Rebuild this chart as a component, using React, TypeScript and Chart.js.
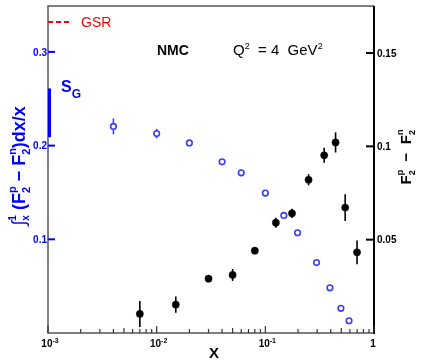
import React, { useEffect, useRef } from "react";
import { Chart, registerables } from "chart.js";

Chart.register(...registerables);

// ---- data ----
const xBlue = [0.004, 0.01, 0.02, 0.04, 0.06, 0.1, 0.148, 0.198, 0.296, 0.393, 0.496, 0.589];
const yBlue = [0.2205, 0.2128, 0.2029, 0.1827, 0.171, 0.1493, 0.1255, 0.107, 0.0752, 0.0482, 0.0263, 0.0131];
const errBlue = [0.0085, 0.005, 0.002, 0, 0, 0, 0, 0, 0, 0, 0, 0];

const xBlack = [0.007, 0.015, 0.03, 0.05, 0.08, 0.125, 0.176, 0.25, 0.348, 0.443, 0.543, 0.698];
const yBlack = [0.0102, 0.0152, 0.0291, 0.0311, 0.0441, 0.0591, 0.0641, 0.0821, 0.0952, 0.1021, 0.0672, 0.0432];
const errBlack = [0.007, 0.0043, 0.0016, 0.0032, 0.0018, 0.0027, 0.0025, 0.003, 0.004, 0.0054, 0.0072, 0.0063];

const xTickExps = [-3, -2, -1, 0];
const leftTicks = [0.1, 0.2, 0.3];
const leftTickLabels = ["0.1", "0.2", "0.3"];
const rightTicks = [0.05, 0.1, 0.15];
const rightTickLabels = ["0.05", "0.1", "0.15"];

const gsrValue = 0.332;
const sgValue = 0.235;
const sgErr = 0.026;

const FONT = '"Liberation Sans", Arial, Helvetica, sans-serif';
const BLUE = "#0000ff";
const BLUE_PT = "#3b3bff";

type Seg = { t: string; size: number; bold?: boolean; dy?: number; stack?: boolean };

function drawRich(ctx: CanvasRenderingContext2D, segs: Seg[], x: number, y: number, align: "left" | "center" | "right", color: string) {
  const pos: number[] = [];
  let cur = 0, prevStart = 0, prevW = 0;
  for (const s of segs) {
    ctx.font = `${s.bold ? "bold " : ""}${s.size}px ${FONT}`;
    const w = ctx.measureText(s.t).width;
    let start;
    if (s.stack) {
      start = prevStart;
      cur = Math.max(prevStart + prevW, start + w);
    } else {
      start = cur;
      cur += w;
    }
    pos.push(start);
    prevStart = start;
    prevW = w;
  }
  const total = cur;
  const x0 = align === "left" ? x : align === "right" ? x - total : x - total / 2;
  ctx.fillStyle = color;
  ctx.textAlign = "left";
  ctx.textBaseline = "alphabetic";
  segs.forEach((s, i) => {
    ctx.font = `${s.bold ? "bold " : ""}${s.size}px ${FONT}`;
    ctx.fillText(s.t, x0 + pos[i], y + (s.dy || 0));
  });
}

const errorBars = {
  id: "errorBars",
  beforeDatasetsDraw(chart: any) {
    const ctx = chart.ctx as CanvasRenderingContext2D;
    const sets = [
      { idx: 0, err: errBlue, vals: yBlue, color: BLUE_PT },
      { idx: 1, err: errBlack, vals: yBlack, color: "#000" },
    ];
    ctx.save();
    for (const s of sets) {
      const meta = chart.getDatasetMeta(s.idx);
      const ys = chart.scales[meta.yAxisID];
      ctx.strokeStyle = s.color;
      ctx.lineWidth = 1.6;
      meta.data.forEach((pt: any, i: number) => {
        if (!s.err[i]) return;
        ctx.beginPath();
        ctx.moveTo(pt.x, ys.getPixelForValue(s.vals[i] - s.err[i]));
        ctx.lineTo(pt.x, ys.getPixelForValue(s.vals[i] + s.err[i]));
        ctx.stroke();
      });
    }
    ctx.restore();
  },
};

const decor = {
  id: "decor",
  afterDraw(chart: any) {
    const ctx = chart.ctx as CanvasRenderingContext2D;
    const a = chart.chartArea;
    const xs = chart.scales.x;
    const yl = chart.scales.yL;
    const yr = chart.scales.yR;
    ctx.save();

    // frame
    ctx.lineWidth = 1.5;
    ctx.strokeStyle = "#555";
    ctx.beginPath();
    ctx.moveTo(a.right, a.top);
    ctx.lineTo(a.left, a.top);
    ctx.lineTo(a.left, a.bottom);
    ctx.lineTo(a.right, a.bottom);
    ctx.stroke();
    ctx.strokeStyle = "#000";
    ctx.lineWidth = 2;
    ctx.beginPath();
    ctx.moveTo(a.right, a.top);
    ctx.lineTo(a.right, a.bottom + 1);
    ctx.stroke();

    // x ticks
    ctx.strokeStyle = "#333";
    ctx.lineWidth = 1.2;
    for (const e of xTickExps) {
      const v = Math.pow(10, e);
      const px = xs.getPixelForValue(v);
      ctx.beginPath();
      ctx.moveTo(px, a.bottom);
      ctx.lineTo(px, a.bottom - 7);
      ctx.stroke();
      if (e < 0) {
        for (let k = 2; k <= 9; k++) {
          const mx = xs.getPixelForValue(k * v);
          ctx.beginPath();
          ctx.moveTo(mx, a.bottom);
          ctx.lineTo(mx, a.bottom - (k === 5 ? 5 : 4));
          ctx.stroke();
        }
      }
      const segs: Seg[] = e === 0
        ? [{ t: "1", size: 10, bold: true }]
        : [{ t: "10", size: 10, bold: true }, { t: String(e), size: 7, bold: true, dy: -4 }];
      drawRich(ctx, segs, px + (e === 0 ? -1 : 2), a.bottom + 14, "center", "#000");
    }

    // left ticks
    ctx.strokeStyle = BLUE;
    ctx.lineWidth = 2;
    leftTicks.forEach((v, i) => {
      const py = yl.getPixelForValue(v);
      ctx.beginPath();
      ctx.moveTo(a.left, py);
      ctx.lineTo(a.left + 7, py);
      ctx.stroke();
      ctx.font = `bold 10px ${FONT}`;
      ctx.fillStyle = BLUE;
      ctx.textAlign = "right";
      ctx.textBaseline = "middle";
      ctx.fillText(leftTickLabels[i], a.left - 1, py + 1);
    });

    // right ticks
    ctx.strokeStyle = "#000";
    rightTicks.forEach((v, i) => {
      const py = yr.getPixelForValue(v);
      ctx.beginPath();
      ctx.moveTo(a.right, py);
      ctx.lineTo(a.right - 8, py);
      ctx.stroke();
      ctx.font = `bold 10px ${FONT}`;
      ctx.fillStyle = "#000";
      ctx.textAlign = "left";
      ctx.textBaseline = "middle";
      ctx.fillText(rightTickLabels[i], a.right + 3, py + 1);
    });

    // S_G bar
    ctx.strokeStyle = BLUE;
    ctx.lineWidth = 3;
    ctx.beginPath();
    ctx.moveTo(a.left + 1.5, yl.getPixelForValue(sgValue - sgErr));
    ctx.lineTo(a.left + 1.5, yl.getPixelForValue(sgValue + sgErr));
    ctx.stroke();
    drawRich(ctx, [{ t: "S", size: 16, bold: true }, { t: "G", size: 12, bold: true, dy: 6 }], a.left + 13, yl.getPixelForValue(sgValue + sgErr) + 4, "left", BLUE);

    // GSR line
    ctx.strokeStyle = "#ff0000";
    ctx.lineWidth = 2;
    ctx.setLineDash([5, 3]);
    const gy = yl.getPixelForValue(gsrValue);
    ctx.beginPath();
    ctx.moveTo(a.left, gy);
    ctx.lineTo(a.left + 22, gy);
    ctx.stroke();
    ctx.setLineDash([]);
    ctx.font = `14px ${FONT}`;
    ctx.fillStyle = "#ff0000";
    ctx.textAlign = "left";
    ctx.textBaseline = "middle";
    ctx.fillText("GSR", a.left + 33, gy + 1);

    // annotations
    ctx.font = `bold 14px ${FONT}`;
    ctx.fillStyle = "#000";
    ctx.textBaseline = "alphabetic";
    ctx.fillText("NMC", a.left + 109, a.top + 49);
    drawRich(ctx, [
      { t: "Q", size: 15 },
      { t: "2", size: 9, dy: -6 },
      { t: "  = 4  GeV", size: 15 },
      { t: "2", size: 9, dy: -6 },
    ], a.left + 185, a.top + 49, "left", "#000");

    // x title
    ctx.font = `bold 15px ${FONT}`;
    ctx.textAlign = "center";
    ctx.fillText("X", 214, a.bottom + 25);

    // left title
    ctx.save();
    ctx.translate(25, 166);
    ctx.rotate(-Math.PI / 2);
    drawRich(ctx, [
      { t: "\u222B", size: 19 },
      { t: "x", size: 10, bold: true, dy: 4 },
      { t: "1", size: 10, bold: true, dy: -9, stack: true },
      { t: " (F", size: 18, bold: true },
      { t: "p", size: 11, bold: true, dy: -9 },
      { t: "2", size: 11, bold: true, dy: 5, stack: true },
      { t: " \u2212 F", size: 18, bold: true },
      { t: "n", size: 11, bold: true, dy: -9 },
      { t: "2", size: 11, bold: true, dy: 5, stack: true },
      { t: ")dx/x", size: 18, bold: true },
    ], 0, 0, "center", BLUE);
    ctx.restore();

    // right title
    ctx.save();
    ctx.translate(411, 157);
    ctx.rotate(-Math.PI / 2);
    drawRich(ctx, [
      { t: "F", size: 15, bold: true },
      { t: "p", size: 9, bold: true, dy: -8 },
      { t: "2", size: 9, bold: true, dy: 4, stack: true },
      { t: "  \u2212  F", size: 15, bold: true },
      { t: "n", size: 9, bold: true, dy: -8 },
      { t: "2", size: 9, bold: true, dy: 4, stack: true },
    ], 0, 0, "center", "#000");
    ctx.restore();

    ctx.restore();
  },
};

export default function App() {
  const ref = useRef<HTMLCanvasElement>(null);
  useEffect(() => {
    if (!ref.current) return;
    const chart = new Chart(ref.current, {
      type: "scatter",
      data: {
        datasets: [
          {
            label: "integral",
            data: xBlue.map((x, i) => ({ x, y: yBlue[i] })),
            yAxisID: "yL",
            pointRadius: 2.8,
            pointBorderWidth: 1.6,
            pointBorderColor: BLUE_PT,
            pointBackgroundColor: "#fff",
          },
          {
            label: "difference",
            data: xBlack.map((x, i) => ({ x, y: yBlack[i] })),
            yAxisID: "yR",
            pointRadius: 3.6,
            pointBorderWidth: 0.5,
            pointBorderColor: "#000",
            pointBackgroundColor: "#000",
          },
        ],
      },
      options: {
        responsive: false,
        animation: false,
        layout: { padding: { top: 6, left: 0, right: 0, bottom: 0 } },
        plugins: { legend: { display: false }, tooltip: { enabled: false } },
        scales: {
          x: {
            type: "logarithmic",
            min: 0.001,
            max: 1,
            ticks: { display: false },
            grid: { display: false },
            border: { display: false },
            afterFit(s: any) { s.height = 28; },
          },
          yL: {
            type: "linear",
            position: "left",
            min: 0,
            max: 0.349,
            ticks: { display: false },
            grid: { display: false },
            border: { display: false },
            afterFit(s: any) { s.width = 48; },
          },
          yR: {
            type: "linear",
            position: "right",
            min: 0,
            max: 0.1752,
            ticks: { display: false },
            grid: { display: false },
            border: { display: false },
            afterFit(s: any) { s.width = 49; },
          },
        },
      },
      plugins: [errorBars, decor],
    });
    return () => chart.destroy();
  }, []);
  return (
    <div style={{ position: "absolute", left: 0, top: 0, width: 423, height: 361, background: "#fff" }}>
      <canvas ref={ref} width={423} height={361} />
    </div>
  );
}
